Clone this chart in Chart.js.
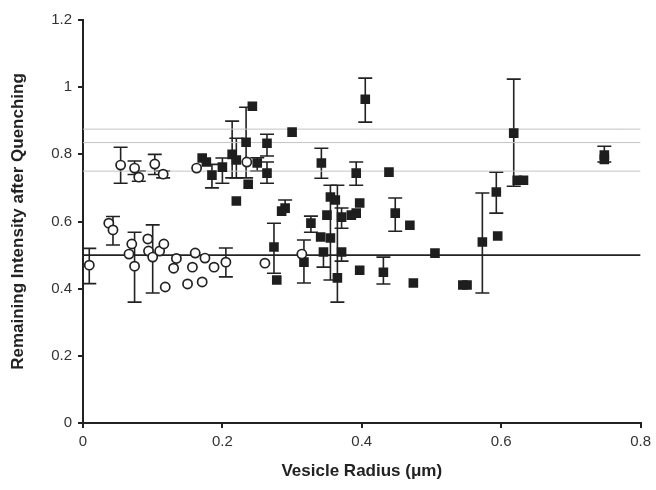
<!DOCTYPE html>
<html>
<head>
<meta charset="utf-8">
<script src="https://cdn.jsdelivr.net/npm/chart.js@4.4.1/dist/chart.umd.min.js"></script>
<style>
  body { margin: 0; background: #fff; }
  canvas { display: block; }
</style>
</head>
<body>
<canvas id="chart" width="656" height="490"></canvas>
<script>
// open circles (small vesicles)
const circX  = [0.009, 0.037, 0.043, 0.054, 0.074, 0.080, 0.103, 0.115, 0.070, 0.066, 0.074, 0.093, 0.094, 0.100, 0.110,
                0.116, 0.134, 0.130, 0.161, 0.157, 0.175, 0.188, 0.205, 0.118, 0.150, 0.171, 0.163, 0.235, 0.261, 0.314];
const circY  = [0.470, 0.595, 0.575, 0.768, 0.759, 0.732, 0.771, 0.741, 0.533, 0.503, 0.467, 0.548, 0.512, 0.494, 0.512,
                0.533, 0.490, 0.461, 0.506, 0.464, 0.491, 0.464, 0.479, 0.405, 0.414, 0.420, 0.759, 0.777, 0.476, 0.503];
const circLo = [0.415, null, 0.530, 0.714, 0.740, 0.720, 0.740, 0.730, null, null, 0.360, null, null, 0.387, null,
                null, null, null, null, null, null, null, 0.435, null, null, null, null, null, null, null];
const circHi = [0.520, null, 0.615, 0.821, 0.780, 0.750, 0.800, 0.750, null, null, 0.568, null, null, 0.590, null,
                null, null, null, null, null, null, null, 0.521, null, null, null, null, null, null, null];

// filled squares (larger vesicles)
const sqX  = [0.171, 0.177, 0.185, 0.200, 0.214, 0.220, 0.234, 0.243, 0.237, 0.220, 0.250, 0.264, 0.264, 0.300, 0.290,
              0.285, 0.274, 0.278, 0.317, 0.327, 0.342, 0.341, 0.355, 0.345, 0.371, 0.365, 0.355, 0.362, 0.350, 0.371,
              0.385, 0.392, 0.397, 0.392, 0.405, 0.397, 0.431, 0.439, 0.448, 0.469, 0.474, 0.505, 0.545, 0.551, 0.573,
              0.595, 0.593, 0.618, 0.623, 0.632, 0.748, 0.748];
const sqY  = [0.789, 0.777, 0.738, 0.762, 0.800, 0.783, 0.836, 0.943, 0.711, 0.661, 0.774, 0.833, 0.744, 0.866, 0.640,
              0.631, 0.524, 0.426, 0.479, 0.595, 0.774, 0.554, 0.551, 0.509, 0.509, 0.432, 0.673, 0.664, 0.619, 0.613,
              0.619, 0.625, 0.655, 0.744, 0.964, 0.455, 0.449, 0.747, 0.625, 0.589, 0.417, 0.506, 0.411, 0.411, 0.539,
              0.557, 0.688, 0.863, 0.723, 0.723, 0.798, 0.785];
const sqLo = [null, null, 0.700, 0.714, 0.730, 0.730, 0.730, null, null, null, 0.750, 0.795, 0.714, null, null,
              null, 0.446, null, 0.417, 0.568, 0.729, null, null, 0.464, 0.482, 0.360, 0.426, null, null, 0.580,
              null, null, null, 0.708, 0.896, null, 0.414, null, 0.571, null, null, null, null, null, 0.387,
              null, 0.625, 0.705, null, null, 0.777, null];
const sqHi = [null, null, 0.770, 0.789, 0.899, 0.848, 0.940, null, null, null, 0.790, 0.860, 0.777, null, 0.664,
              null, 0.595, null, 0.545, 0.616, 0.818, null, null, null, null, 0.708, 0.708, null, null, 0.640,
              null, null, null, 0.777, 1.027, null, 0.494, null, 0.670, null, null, null, null, null, 0.685,
              null, 0.747, 1.024, null, null, 0.824, null];

// horizontal reference levels
const refLines = [0.5, 0.75, 0.835, 0.875];
const refColors = ['#222', '#c4c4c4', '#c4c4c4', '#c4c4c4'];

const xTicks = [0, 0.2, 0.4, 0.6, 0.8];
const yTicks = [0, 0.2, 0.4, 0.6, 0.8, 1, 1.2];

function points(xs, ys) {
    return xs.map((x, i) => ({ x: x, y: ys[i] }));
}

// vertical error bars with caps, drawn behind the markers
const errorBars = {
    id: 'errorBars',
    beforeDatasetsDraw(chart) {
        const { ctx, scales: { x, y } } = chart;
        const sets = [[circX, circY, circLo, circHi], [sqX, sqY, sqLo, sqHi]];
        ctx.save();
        ctx.strokeStyle = '#222';
        ctx.lineWidth = 1.6;
        sets.forEach(([xs, ys, lo, hi]) => {
            xs.forEach((v, i) => {
                if (lo[i] == null && hi[i] == null) return;
                const px = x.getPixelForValue(v);
                const ym = y.getPixelForValue(ys[i]);
                const yh = hi[i] != null ? y.getPixelForValue(hi[i]) : null;
                const yl = lo[i] != null ? y.getPixelForValue(lo[i]) : null;
                ctx.beginPath();
                ctx.moveTo(px, yh != null ? yh : ym);
                ctx.lineTo(px, yl != null ? yl : ym);
                if (yh != null) { ctx.moveTo(px - 7, yh); ctx.lineTo(px + 7, yh); }
                if (yl != null) { ctx.moveTo(px - 7, yl); ctx.lineTo(px + 7, yl); }
                ctx.stroke();
            });
        });
        ctx.restore();
    }
};

const refSets = refLines.map((v, i) => ({
    type: 'line',
    data: [{ x: 0, y: v }, { x: 0.8, y: v }],
    borderColor: refColors[i],
    borderWidth: i === 0 ? 1.6 : 1,
    pointRadius: 0,
    order: 3
}));

new Chart(document.getElementById('chart'), {
    type: 'scatter',
    data: {
        datasets: [
            {
                data: points(circX, circY),
                pointStyle: 'circle',
                pointRadius: 4.6,
                backgroundColor: '#fff',
                borderColor: '#222',
                borderWidth: 1.7,
                order: 1
            },
            {
                data: points(sqX, sqY),
                pointStyle: 'rect',
                pointRadius: 6.8,
                backgroundColor: '#1e1e1e',
                borderColor: '#1e1e1e',
                borderWidth: 0,
                order: 2
            },
            ...refSets
        ]
    },
    options: {
        responsive: false,
        animation: false,
        layout: { padding: { top: 20, right: 12, left: 0, bottom: 0 } },
        plugins: { legend: { display: false }, tooltip: { enabled: false } },
        scales: {
            x: {
                type: 'linear',
                min: 0, max: 0.8,
                afterBuildTicks: s => { s.ticks = xTicks.map(v => ({ value: v })); },
                afterFit: s => { s.height = 67; },
                grid: { drawOnChartArea: false, drawTicks: true, tickLength: 5, color: '#222', lineWidth: 2 },
                border: { color: '#222', width: 2 },
                ticks: { color: '#333', font: { family: 'Liberation Sans', size: 15 }, padding: 5, maxRotation: 0,
                         callback: v => String(v) },
                title: { display: true, text: 'Vesicle Radius (\u03bcm)', color: '#222',
                         font: { family: 'Liberation Sans', size: 17, weight: 'bold' }, padding: { top: 4, bottom: 8 } }
            },
            y: {
                type: 'linear',
                min: 0, max: 1.2,
                afterBuildTicks: s => { s.ticks = yTicks.map(v => ({ value: v })); },
                afterFit: s => { s.width = 83; },
                grid: { drawOnChartArea: false, drawTicks: true, tickLength: 5, color: '#222', lineWidth: 2 },
                border: { color: '#222', width: 2 },
                ticks: { color: '#333', font: { family: 'Liberation Sans', size: 15 }, padding: 6,
                         callback: v => String(v) },
                title: { display: true, text: 'Remaining Intensity after Quenching', color: '#222',
                         font: { family: 'Liberation Sans', size: 17, weight: 'bold' }, padding: { top: 8, bottom: 4 } }
            }
        }
    },
    plugins: [errorBars]
});
</script>
</body>
</html>
